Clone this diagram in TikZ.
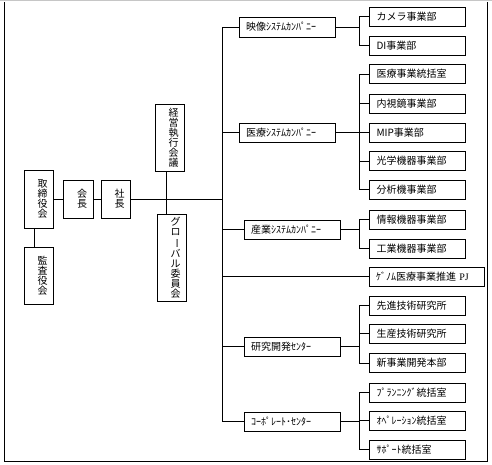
\documentclass[tikz,border=0pt]{standalone}
\usepackage{fontspec}
\setmainfont{Noto Sans CJK JP}
\newfontfamily\pjfont{Liberation Serif}
\newcommand\chobar{\makebox[1em]{\rotatebox[origin=c]{-90}{ー}}}

\begin{document}
\begin{tikzpicture}[x=1pt,y=-1pt,line width=.9pt,
  box/.style={draw,fill=white,inner sep=0pt,minimum height=19pt},
  tate/.style={box,align=right,text width=18pt,font=\fontsize{10}{10}\selectfont},
  yoko/.style={box,align=left,inner xsep=7pt,text width=82pt,font=\fontsize{10}{12}\selectfont}]
\path[use as bounding box] (0,0) rectangle (492,464);
% frame
\draw[gray!45] (0,0.5) -- (492,0.5);
\draw (4.5,2) -- (4.5,461.5) -- (487,461.5) -- (487,2);
\coordinate (bus) at (222.5,0);
\coordinate (split) at (359,0);
% top of the company
\node[tate,minimum width=29pt,minimum height=58pt] (torishimari) at (38.5,199) {取\\締\\役\\会};
\node[tate,minimum width=29pt,minimum height=57pt] (kansa) at (38.5,275.5) {監\\査\\役\\会};
\node[tate,minimum width=30pt,minimum height=38pt] (kaicho) at (78,199) {会\\長};
\node[tate,minimum width=29pt,minimum height=38pt] (shacho) at (115.5,199) {社\\長};
\node[tate,minimum width=29pt,minimum height=67pt] (keiei) at (169.5,137.5) {経\\営\\執\\行\\会\\議};
\node[tate,minimum width=29pt,minimum height=87pt] (global) at (171.5,257.5) {グ\\ロ\\\chobar\\バ\\ル\\委\\員\\会};
% companies and centers
\node[yoko,minimum height=20pt] (eizo) at (287,27) {映像ｼｽﾃﾑｶﾝﾊﾟﾆｰ};
\node[yoko] (iryo) at (287,132.5) {医療ｼｽﾃﾑｶﾝﾊﾟﾆｰ};
\node[yoko] (sangyo) at (292,229.5) {産業ｼｽﾃﾑｶﾝﾊﾟﾆｰ};
\node[yoko] (kenkyu) at (292,346.5) {研究開発ｾﾝﾀｰ};
\node[yoko] (corp) at (292,421.5) {ｺｰﾎﾟﾚｰﾄ･ｾﾝﾀｰ};
% divisions
\node[yoko] (camera) at (417.5,16.5) {カメラ事業部};
\node[yoko] (di) at (417.5,45.5) {DI事業部};
\node[yoko] (iryotokatsu) at (417.5,74) {医療事業統括室};
\node[yoko] (naishi) at (417.5,103.5) {内視鏡事業部};
\node[yoko] (mip) at (417.5,132.5) {MIP事業部};
\node[yoko] (kogaku) at (417.5,161) {光学機器事業部};
\node[yoko] (bunseki) at (417.5,189.5) {分析機事業部};
\node[yoko] (joho) at (417.5,219.5) {情報機器事業部};
\node[yoko] (kogyo) at (417.5,248.5) {工業機器事業部};
\node[yoko,text width=101pt] (genome) at (426.5,276.5) {ｹﾞﾉﾑ医療事業推進 {\pjfont PJ}};
\node[yoko] (senshin) at (417.5,305.5) {先進技術研究所};
\node[yoko] (seisan) at (417.5,333.5) {生産技術研究所};
\node[yoko] (shinjigyo) at (417.5,363) {新事業開発本部};
\node[yoko] (planning) at (417.5,392.5) {ﾌﾟﾗﾝﾆﾝｸﾞ統括室};
\node[yoko] (operation) at (417.5,420.5) {ｵﾍﾟﾚｰｼｮﾝ統括室};
\node[yoko] (support) at (417.5,449.5) {ｻﾎﾟｰﾄ統括室};
% left part
\draw (torishimari) -- (kaicho);
\draw (kaicho) -- (shacho);
\draw (shacho) -- (shacho -| bus);
\draw ([xshift=-4.5pt]torishimari.south) -- ([xshift=-4.5pt]torishimari.south |- kansa.north);
\draw ([xshift=-3.5pt]keiei.south) -- ([xshift=-3.5pt]keiei.south |- global.north);
% main bus
\draw (bus |- eizo) -- (bus |- corp);
\draw (bus |- eizo) -- (eizo);
\draw (bus |- iryo) -- (iryo);
\draw (bus |- sangyo) -- (sangyo);
\draw (bus |- genome) -- (genome);
\draw (bus |- kenkyu) -- (kenkyu);
\draw (bus |- corp) -- (corp);
% eizo
\draw (eizo) -- (eizo -| split);
\draw (split |- camera) -- (split |- di);
\draw (split |- camera) -- (camera);
\draw (split |- di) -- (di);
% iryo
\draw (iryo) -- (iryo -| split);
\draw (split |- iryotokatsu) -- (split |- bunseki);
\draw (split |- iryotokatsu) -- (iryotokatsu);
\draw (split |- naishi) -- (naishi);
\draw (split |- mip) -- (mip);
\draw (split |- kogaku) -- (kogaku);
\draw (split |- bunseki) -- (bunseki);
% sangyo
\draw (sangyo) -- (sangyo -| split);
\draw (split |- joho) -- (split |- kogyo);
\draw (split |- joho) -- (joho);
\draw (split |- kogyo) -- (kogyo);
% kenkyu
\draw (kenkyu) -- (kenkyu -| split);
\draw (split |- senshin) -- (split |- shinjigyo);
\draw (split |- senshin) -- (senshin);
\draw (split |- seisan) -- (seisan);
\draw (split |- shinjigyo) -- (shinjigyo);
% corp
\draw (corp) -- (corp -| split);
\draw (split |- planning) -- (split |- support);
\draw (split |- planning) -- (planning);
\draw (split |- operation) -- (operation);
\draw (split |- support) -- (support);
\end{tikzpicture}
\end{document}
